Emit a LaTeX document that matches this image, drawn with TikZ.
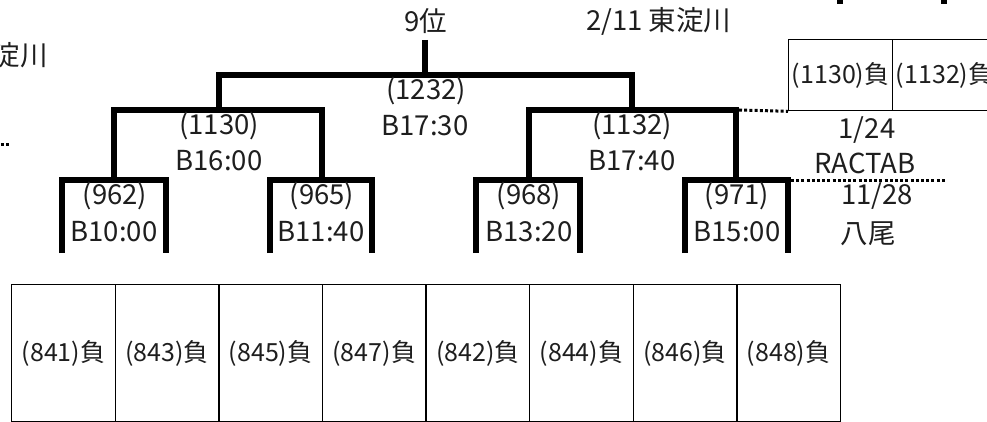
\documentclass[tikz,border=0pt]{standalone}
\usepackage{fontspec}
\setmainfont{Noto Sans CJK JP}
\definecolor{ink}{HTML}{1E1E1E}
\begin{document}
\begin{tikzpicture}[x=1pt,y=-1pt,
  br/.style={line width=5.5pt, line join=miter},
  dotl/.style={line width=3pt, dash pattern=on 3pt off 2.2pt},
  cellb/.style={draw, line width=1.3pt, minimum width=103.6pt, minimum height=137pt, inner sep=0pt, anchor=north west, text=ink, font=\fontsize{25}{30}\selectfont},
  cellt/.style={draw, line width=1.3pt, minimum width=104pt, minimum height=71pt, inner sep=0pt, anchor=north west, text=ink, font=\fontsize{25}{30}\selectfont},
  lbl/.style={inner sep=0pt, text=ink, font=\fontsize{27.5}{32}\selectfont}]
\useasboundingbox (0,0) rectangle (987,422);

% ---- coordinates of the bracket tree
\coordinate (rtop) at (425,40);
\coordinate (rbot) at (425,75);
\coordinate (L2a) at (219,110);
\coordinate (L2b) at (632,110);
\coordinate (L3a) at (114,180);
\coordinate (L3b) at (322,180);
\coordinate (L3c) at (529,180);
\coordinate (L3d) at (736,180);
\foreach \n/\l/\r in {1/62/166, 2/270/372, 3/476/580, 4/685/788}{
  \coordinate (f\n l) at (\l,253);
  \coordinate (f\n r) at (\r,253);
}

% ---- brackets
\draw[br] (rtop) -- (rbot);
\draw[br] (L2a) |- (rbot) -| (L2b);
\draw[br] (L3a) |- (L2a) -| (L3b);
\draw[br] (L3c) |- (L2b) -| (L3d);
\draw[br] (f1l) |- (L3a) -| (f1r);
\draw[br] (f2l) |- (L3b) -| (f2r);
\draw[br] (f3l) |- (L3c) -| (f3r);
\draw[br] (f4l) |- (L3d) -| (f4r);

% partial lines at the top right
\coordinate (u1a) at (840,-10); \coordinate (u1b) at (840,4);
\coordinate (u2a) at (944,-10); \coordinate (u2b) at (944,4);
\draw[br] (u1a) -- (u1b);
\draw[br] (u2a) -- (u2b);

% ---- labels
\node[lbl] (rank) at (426,21) {9位};
\node[lbl, anchor=west] (date) at (586,21) {2/11 東淀川};
\node[lbl, anchor=east] (ldate) at (48,55) {東淀川};
\node[lbl] (g1232) at (426,91) {(1232)};
\node[lbl] (t1232) at (425,126) {B17:30};
\node[lbl] (g1130) at (219,126) {(1130)};
\node[lbl] (t1130) at (219,161) {B16:00};
\node[lbl] (g1132) at (632,126) {(1132)};
\node[lbl] (t1132) at (632,161) {B17:40};
\node[lbl] (g962) at (115,196) {(962)};
\node[lbl] (t962) at (114,232) {B10:00};
\node[lbl] (g965) at (322,196) {(965)};
\node[lbl] (t965) at (321,232) {B11:40};
\node[lbl] (g968) at (529,196) {(968)};
\node[lbl] (t968) at (529,232) {B13:20};
\node[lbl] (g971) at (737,196) {(971)};
\node[lbl] (t971) at (737,232) {B15:00};

\node[lbl] (d124) at (867,130) {1/24};
\node[lbl] (vrac) at (865,163) {RACTAB};
\node[lbl] (d1128) at (877,196) {11/28};
\node[lbl] (vyao) at (868,234) {八尾};

% ---- top right table
\node[cellt] (tt1) at (788,39) {(1130)負};
\node[cellt] (tt2) at (892,39) {(1132)負};

% ---- dotted connectors
\coordinate (lfree) at (-20,145);
\coordinate (lend) at (9,145);
\draw[dotl] (lfree) -- (lend);
\coordinate (d1s) at (739,110);
\draw[dotl] (d1s) -- (tt1.south west);
\coordinate (d2s) at (791,180.5);
\coordinate (d2e) at (945,180.5);
\draw[dotl] (d2s) -- (d2e);

% ---- bottom table
\foreach \i/\t in {0/841,1/843,2/845,3/847,4/842,5/844,6/846,7/848}{
  \node[cellb] (c\i) at ({11+103.6*\i},284) {(\t)負};
}
\end{tikzpicture}
\end{document}
